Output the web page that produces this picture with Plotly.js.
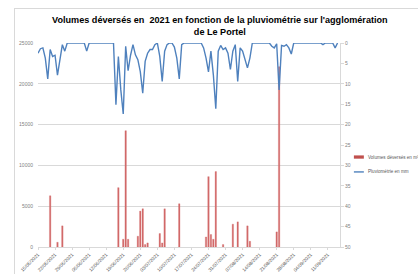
<!DOCTYPE html>
<html>
<head>
<meta charset="utf-8">
<script src="https://cdn.plot.ly/plotly-3.0.1.min.js"></script>
<style>
  html, body { margin: 0; padding: 0; background: #fff; overflow: hidden; }
  #frame { position: absolute; left: 14px; top: 8px; width: 420px; height: 280px; border: 1px solid #d9d9d9; }
  #chart { position: absolute; left: 0; top: 0; width: 418px; height: 274px; }
</style>
</head>
<body>
<div id="frame"></div>
<div id="chart"></div>
<script>
// Daily rainfall (mm), one value per day starting 15/05/2021
const startDate = '2021-05-15';
const rainfall = [
  2.5, 1.4, 1.2, 3.7, 8.8, 1.6, 3.3, 3.0, 7.9, 3.7,
  0.4, 2.0, 0, 0, 0, 0, 0, 0, 0, 0,
  2.0, 0, 0, 0, 0, 0, 0, 0, 0, 0,
  0, 0, 15.1, 3.3, 11.5, 17.4, 0.8, 6.8, 3.0, 0.4,
  2.9, 4.1, 7.0, 12.3, 4.5, 2.5, 1.6, 1.6, 0.4, 0,
  3.3, 9.4, 2.0, 0.4, 0, 0, 1.0, 3.7, 8.8, 0.4,
  0, 0, 0, 0, 0, 0, 0, 0, 1.2, 3.7,
  7.1, 2.0, 7.8, 16.1, 2.0, 0.6, 1.6, 1.2, 2.5, 6.5,
  2.0, 0.4, 9.4, 1.2, 2.0, 4.1, 6.1, 3.7, 0, 0,
  0, 0, 0, 0, 0, 0, 0.8, 1.2, 0.2, 11.5,
  0.6, 0.8, 0.4, 1.2, 2.7, 0, 0, 0, 0, 0,
  0, 0, 0, 0, 0, 0, 0, 0.4, 0, 0,
  0, 0, 1.2, 0
];

// Overflow volumes (m³) on the days they occurred
const overflowDates = [
  '2021-05-20', '2021-05-23', '2021-05-25', '2021-06-17', '2021-06-19',
  '2021-06-20', '2021-06-21', '2021-06-25', '2021-06-26', '2021-06-27',
  '2021-06-28', '2021-06-29', '2021-07-04', '2021-07-05', '2021-07-06',
  '2021-07-12', '2021-07-23', '2021-07-24', '2021-07-25', '2021-07-26',
  '2021-07-27', '2021-07-30', '2021-08-03', '2021-08-05', '2021-08-09',
  '2021-08-10', '2021-08-21', '2021-08-22'
];
const overflowVolumes = [
  6280, 580, 2590, 7270, 950,
  14250, 950, 1320, 4400, 4680,
  300, 500, 1650, 500, 4680,
  5300, 1230, 8620, 1530, 950,
  9240, 300, 2800, 3080, 2590,
  700, 1850, 22100
];

const tickDates = [
  '2021-05-15', '2021-05-22', '2021-05-29', '2021-06-05', '2021-06-12', '2021-06-19',
  '2021-06-26', '2021-07-03', '2021-07-10', '2021-07-17', '2021-07-24', '2021-07-31',
  '2021-08-07', '2021-08-14', '2021-08-21', '2021-08-28', '2021-09-04', '2021-09-11'
];
const tickLabels = [
  '15/05/2021', '22/05/2021', '29/05/2021', '05/06/2021', '12/06/2021', '19/06/2021',
  '26/06/2021', '03/07/2021', '10/07/2021', '17/07/2021', '24/07/2021', '31/07/2021',
  '07/08/2021', '14/08/2021', '21/08/2021', '28/08/2021', '04/09/2021', '11/09/2021'
];

const seriesNames = ['Volumes déversés en m³', 'Pluviométrie en mm'];
const seriesColors = ['#d26a6a', '#4f81bd'];

const DAY = 86400000;
const t0 = Date.parse(startDate + 'T00:00:00Z');
const rainDates = rainfall.map((_, i) => new Date(t0 + i * DAY).toISOString().slice(0, 10));

const FONT = 'Liberation Sans, Arial, sans-serif';

const traces = [
  {
    type: 'bar',
    name: seriesNames[0],
    x: overflowDates,
    y: overflowVolumes,
    width: 0.6 * DAY,
    marker: { color: seriesColors[0], line: { color: seriesColors[0], width: 0.3 } },
    yaxis: 'y',
    showlegend: false
  },
  {
    type: 'scatter',
    mode: 'lines',
    name: seriesNames[1],
    x: rainDates,
    y: rainfall,
    line: { color: seriesColors[1], width: 1.4 },
    yaxis: 'y2',
    showlegend: false
  }
];

// Manual legend (plot area: x 38..340, y 43..247)
const legX0 = 1.046, legX1 = 1.079, legTextX = 1.086;
const legY = [0.441, 0.368];

const layout = {
  width: 418,
  height: 274,
  margin: { l: 38, r: 78, t: 43, b: 27, pad: 0 },
  paper_bgcolor: 'rgba(0,0,0,0)',
  plot_bgcolor: 'rgba(0,0,0,0)',
  font: { family: FONT, size: 5, color: '#595959' },
  title: {
    text: '<b>Volumes déversés en\u00a0 2021 en fonction de la pluviométrie sur l\'agglomération<br>de Le Portel</b>',
    font: { family: FONT, size: 9.1, color: '#000' },
    x: 0.526, xanchor: 'center',
    y: 0.915, yanchor: 'middle'
  },
  xaxis: {
    type: 'date',
    range: ['2021-05-15', '2021-09-16'],
    tickvals: tickDates,
    ticktext: tickLabels,
    tickangle: -45,
    tickfont: { size: 4.8, color: '#595959' },
    showgrid: false,
    showline: true,
    linecolor: '#d9d9d9',
    linewidth: 1,
    ticks: 'outside',
    ticklen: 2,
    tickcolor: '#d9d9d9',
    zeroline: false,
    automargin: false
  },
  yaxis: {
    range: [0, 25000],
    tickvals: [0, 5000, 10000, 15000, 20000, 25000],
    ticktext: ['0', '5000', '10000', '15000', '20000', '25000'],
    tickfont: { size: 5, color: '#7f7f7f' },
    showgrid: true,
    gridcolor: '#d9d9d9',
    gridwidth: 1,
    showline: false,
    zeroline: false,
    ticks: '',
    ticklabelstandoff: 4,
    automargin: false
  },
  yaxis2: {
    overlaying: 'y',
    side: 'right',
    range: [50, 0],
    tickvals: [0, 5, 10, 15, 20, 25, 30, 35, 40, 45, 50],
    tickfont: { size: 5, color: '#7f7f7f' },
    showgrid: false,
    showline: true,
    linecolor: '#d9d9d9',
    linewidth: 1,
    ticks: 'outside',
    ticklen: 3,
    tickcolor: '#d9d9d9',
    zeroline: false,
    automargin: false
  },
  showlegend: false,
  shapes: [
    { type: 'rect', xref: 'paper', yref: 'paper', x0: legX0, x1: legX1, y0: legY[0] - 0.008, y1: legY[0] + 0.008,
      fillcolor: '#c0504d', line: { width: 0 } },
    { type: 'line', xref: 'paper', yref: 'paper', x0: legX0, x1: legX1, y0: legY[1], y1: legY[1],
      line: { color: seriesColors[1], width: 1.4 } }
  ],
  annotations: [
    { xref: 'paper', yref: 'paper', x: legTextX, y: legY[0], xanchor: 'left', yanchor: 'middle',
      text: seriesNames[0], showarrow: false, font: { family: FONT, size: 4.6, color: '#595959' } },
    { xref: 'paper', yref: 'paper', x: legTextX, y: legY[1], xanchor: 'left', yanchor: 'middle',
      text: seriesNames[1], showarrow: false, font: { family: FONT, size: 4.6, color: '#595959' } }
  ]
};

Plotly.newPlot('chart', traces, layout, { displayModeBar: false, staticPlot: true });
</script>
</body>
</html>
